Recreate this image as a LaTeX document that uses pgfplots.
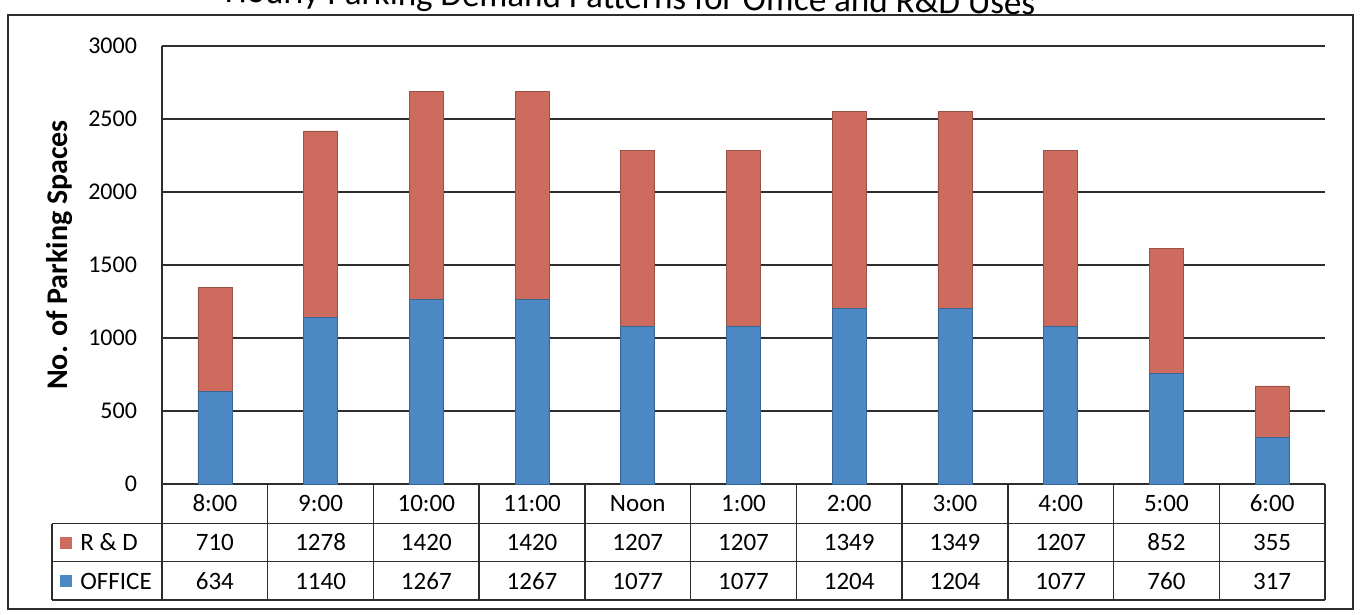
\documentclass[border=0pt]{standalone}
\usepackage{pgfplots}
\usepackage{pgfplotstable}
\pgfplotsset{compat=1.18}
\usepackage{fontspec}
\setmainfont{Carlito}
\definecolor{rdred}{RGB}{205,108,94}
\definecolor{offblue}{RGB}{76,136,196}
\definecolor{gridc}{RGB}{45,45,45}
\pgfplotstableread{
i office rd
0 634 710
1 1140 1278
2 1267 1420
3 1267 1420
4 1077 1207
5 1077 1207
6 1204 1349
7 1204 1349
8 1077 1207
9 760 852
10 317 355
}\datatable
\begin{document}
\begin{tikzpicture}
\begin{axis}[
  at={(81pt,-242pt)}, anchor=south west,
  scale only axis, width=581.5pt, height=219pt,
  xmin=-0.5, xmax=10.5, ymin=0, ymax=3000,
  ybar stacked, bar width=17pt,
  xtick=\empty, ytick={0,500,...,3000},
  ymajorgrids, major grid style={gridc, line width=0.7pt},
  axis y line*=left, axis x line=none,
  y axis line style={gridc, line width=0.7pt, -},
  major tick length=0pt,
  yticklabel style={font=\fontsize{12}{14}\selectfont, xshift=-9pt},
  /pgf/number format/assume math mode=true,
  /pgf/number format/1000 sep={},
  clip=false,
]
\addplot[fill=offblue, draw=offblue!75!black, line width=0.3pt] table[x=i,y=office]{\datatable};
\addplot[fill=rdred, draw=rdred!75!black, line width=0.3pt] table[x=i,y=rd]{\datatable};
\end{axis}
\begin{scope}[x=0.5pt,y=-0.5pt]
  % outer frame
  \draw[gridc, line width=0.6pt] (8,15) rectangle (1353,609);
  % title (top cut off as in the scan)
  \node[anchor=base, rotate=-0.85, inner sep=0pt, font=\fontsize{17.5}{20}\selectfont] at (630,8.5) {Hourly Parking Demand Patterns for Office and R\&D Uses};
  % y label
  \node[rotate=90, font=\bfseries\fontsize{15}{18}\selectfont] at (60,255) {No. of Parking Spaces};
  % data table grid
  \draw[gridc, line width=0.7pt] (52,523.5) -- (1325,523.5);
  \draw[gridc, line width=0.7pt] (52,561.5) -- (1325,561.5);
  \draw[gridc, line width=0.7pt] (52,600) -- (1325,600);
  \draw[gridc, line width=0.7pt] (52,523.5) -- (52,600);
  \foreach \k in {0,...,11} {
    \draw[gridc, line width=0.7pt] ({162+\k*105.727},484) -- ({162+\k*105.727},600);
  }
  \foreach \lab/\r/\o [count=\i from 0] in {8:00/710/634, 9:00/1278/1140, 10:00/1420/1267, 11:00/1420/1267, Noon/1207/1077, 1:00/1207/1077, 2:00/1349/1204, 3:00/1349/1204, 4:00/1207/1077, 5:00/852/760, 6:00/355/317} {
    \node[font=\fontsize{12.5}{15}\selectfont] at ({162+(\i+0.5)*105.727},503.5) {\lab};
    \node[font=\fontsize{12.5}{15}\selectfont] at ({162+(\i+0.5)*105.727},542.5) {\r};
    \node[font=\fontsize{12.5}{15}\selectfont] at ({162+(\i+0.5)*105.727},581) {\o};
  }
  % legend keys
  \fill[rdred] (60,536.5) rectangle (72,548.5);
  \node[anchor=west, inner sep=0pt, font=\fontsize{12.5}{15}\selectfont] at (80,542.5) {R \& D};
  \fill[offblue] (60,575) rectangle (72,587);
  \node[anchor=west, inner sep=0pt, font=\fontsize{12.5}{15}\selectfont] at (80,581) {OFFICE};
  \pgfresetboundingbox
  \path[use as bounding box] (0,0) rectangle (1360,615);
\end{scope}
\end{tikzpicture}
\end{document}
